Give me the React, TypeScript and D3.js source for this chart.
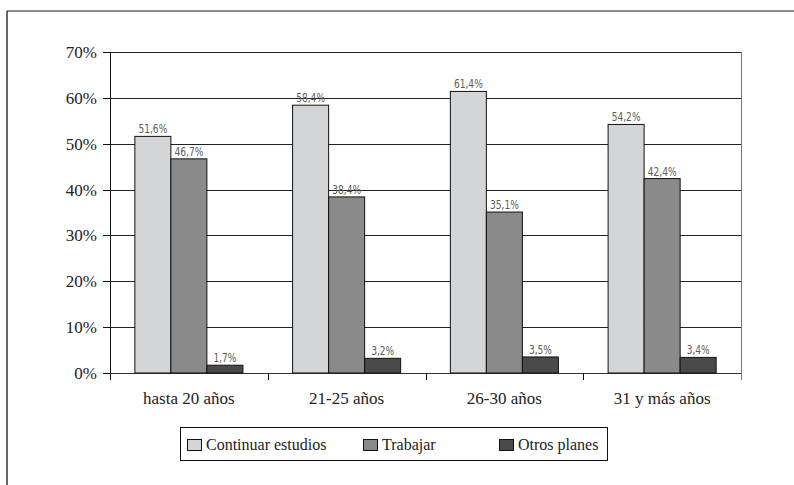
import React from "react";
import * as d3 from "d3";

const categories = ["hasta 20 años", "21-25 años", "26-30 años", "31 y más años"];
const seriesNames = ["Continuar estudios", "Trabajar", "Otros planes"];
const continuarEstudios = [51.6, 58.4, 61.4, 54.2];
const trabajar = [46.7, 38.4, 35.1, 42.4];
const otrosPlanes = [1.7, 3.2, 3.5, 3.4];
const yTicks = [0, 10, 20, 30, 40, 50, 60, 70];
const seriesColors = ["#d4d5d7", "#8a8a8a", "#4a4a4a"];

const W = 794;
const H = 485;
const plot = { left: 110, right: 741, top: 52, bottom: 373 };

const serif = "Liberation Serif, DejaVu Serif, Noto Serif, Times New Roman, serif";
const narrow = "Liberation Sans Narrow, DejaVu Sans Condensed, Arial Narrow, sans-serif";

export default function App() {
  const seriesValues = [continuarEstudios, trabajar, otrosPlanes];

  const y = d3.scaleLinear().domain([0, 70]).range([plot.bottom, plot.top]);
  const x0 = d3.scaleBand<string>().domain(categories).range([plot.left, plot.right]).padding(0);
  const x1 = d3
    .scaleBand<string>()
    .domain(seriesNames)
    .range([0, x0.bandwidth()])
    .paddingInner(0)
    .paddingOuter(0.69);

  const fmt = (v: number) => v.toFixed(1).replace(".", ",") + "%";

  const legendItems = [
    { x: 187, tx: 206 },
    { x: 363, tx: 382 },
    { x: 499, tx: 518 },
  ];

  return (
    <svg
      width={W}
      height={H}
      style={{ position: "absolute", left: 0, top: 0, background: "#fff" }}
    >
      {/* outer frame: top and left edges only */}
      <line x1={7} x2={W} y1={11} y2={11} stroke="#666" strokeWidth={1.5} />
      <line x1={7} x2={7} y1={11} y2={H} stroke="#333" strokeWidth={1.5} />

      {/* horizontal gridlines */}
      {yTicks.map((t) => (
        <line
          key={"g" + t}
          x1={plot.left}
          x2={plot.right}
          y1={Math.round(y(t)) + 0.5}
          y2={Math.round(y(t)) + 0.5}
          stroke={t === 0 ? "#333" : "#222"}
          strokeWidth={1}
        />
      ))}

      {/* right edge of plot area */}
      <line
        x1={plot.right + 0.5}
        x2={plot.right + 0.5}
        y1={plot.top}
        y2={plot.bottom + 7}
        stroke="#777"
        strokeWidth={1}
      />

      {/* y axis */}
      <line
        x1={plot.left + 0.5}
        x2={plot.left + 0.5}
        y1={plot.top}
        y2={plot.bottom + 7}
        stroke="#111"
        strokeWidth={1}
      />
      {yTicks.map((t) => (
        <g key={"yt" + t}>
          <line
            x1={plot.left - 7}
            x2={plot.left}
            y1={Math.round(y(t)) + 0.5}
            y2={Math.round(y(t)) + 0.5}
            stroke="#111"
          />
          <text
            x={97}
            y={y(t)}
            dy="0.35em"
            textAnchor="end"
            style={{ fontFamily: serif }}
            fontSize={17}
            fill="#222"
          >
            {t}%
          </text>
        </g>
      ))}

      {/* category ticks below the axis */}
      {categories.slice(1).map((c) => (
        <line
          key={"xt" + c}
          x1={Math.round(x0(c) as number) + 0.5}
          x2={Math.round(x0(c) as number) + 0.5}
          y1={plot.bottom}
          y2={plot.bottom + 7}
          stroke="#111"
        />
      ))}

      {/* bars and value labels */}
      {categories.map((c, ci) => (
        <g key={c} transform={`translate(${x0(c)},0)`}>
          {seriesNames.map((s, si) => {
            const v = seriesValues[si][ci];
            const bx = x1(s) as number;
            const bw = x1.bandwidth();
            return (
              <g key={s}>
                <rect
                  x={bx}
                  y={y(v)}
                  width={bw}
                  height={y(0) - y(v)}
                  fill={seriesColors[si]}
                  stroke="#111"
                  strokeWidth={1}
                />
                <text
                  transform={`translate(${bx + bw / 2},${y(v) - 3}) scale(0.84,1)`}
                  textAnchor="middle"
                  style={{ fontFamily: narrow }}
                  fontSize={12}
                  fill="#5a5a5a"
                >
                  {fmt(v)}
                </text>
              </g>
            );
          })}
          <text
            x={x0.bandwidth() / 2}
            y={404}
            textAnchor="middle"
            style={{ fontFamily: serif }}
            fontSize={17}
            fill="#222"
          >
            {c}
          </text>
        </g>
      ))}

      {/* legend */}
      <rect x={180.5} y={427.5} width={427} height={33} fill="#fff" stroke="#111" strokeWidth={1} />
      {seriesNames.map((s, i) => (
        <g key={"lg" + s}>
          <rect
            x={legendItems[i].x + 0.5}
            y={439.5}
            width={14}
            height={11}
            fill={seriesColors[i]}
            stroke="#111"
          />
          <text
            x={legendItems[i].tx}
            y={450}
            style={{ fontFamily: serif }}
            fontSize={16}
            fill="#222"
          >
            {s}
          </text>
        </g>
      ))}
    </svg>
  );
}
